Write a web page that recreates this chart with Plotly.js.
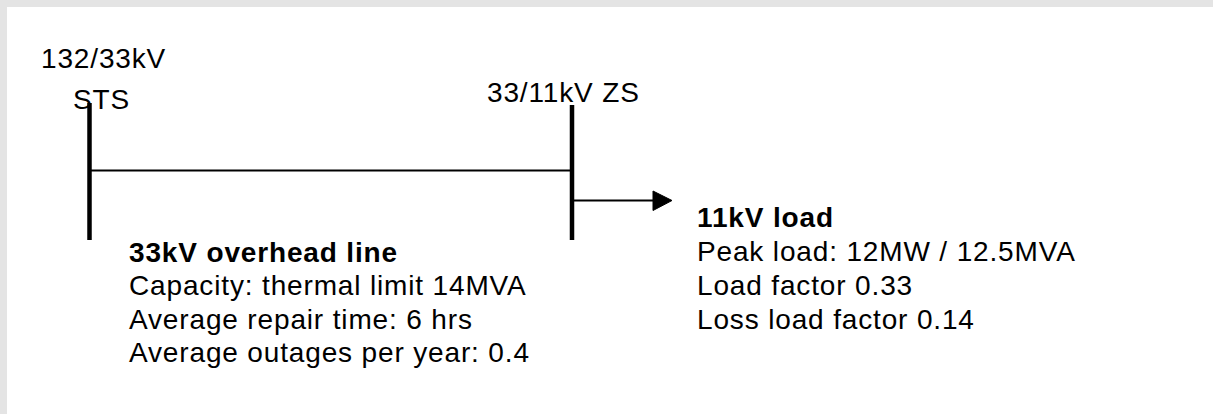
<!DOCTYPE html>
<html>
<head>
<meta charset="utf-8">
<script src="https://cdn.plot.ly/plotly-3.0.1.min.js"></script>
<style>
  html, body { margin: 0; padding: 0; background: #e4e4e4; }
  #chart { width: 1213px; height: 414px; }
  .annotation-text { letter-spacing: 0.85px; }
</style>
</head>
<body>
<div id="chart"></div>
<script>
// Diagram content
const busLabels = ['132/33kV', 'STS', '33/11kV ZS'];
const lineTitle = '33kV overhead line';
const lineDetails = ['Capacity: thermal limit 14MVA', 'Average repair time: 6 hrs', 'Average outages per year: 0.4'];
const loadTitle = '11kV load';
const loadDetails = ['Peak load: 12MW / 12.5MVA', 'Load factor 0.33', 'Loss load factor 0.14'];

const FONT = 'Liberation Sans, Arial, sans-serif';
const FS = 28;

function label(text, x, y, bold) {
  return {
    x: x, y: y, xref: 'x', yref: 'y',
    text: bold ? '<b>' + text + '</b>' : text,
    showarrow: false, xanchor: 'left', yanchor: 'middle',
    borderpad: 0, borderwidth: 0,
    font: { family: FONT, size: FS, color: '#000000' }
  };
}

const annotations = [
  label(busLabels[0], 41, 58.5, false),
  label(busLabels[1], 73, 99.5, false),
  label(busLabels[2], 487, 92.5, false),
  label(lineTitle, 129, 252, true),
];
lineDetails.forEach((t, i) => annotations.push(label(t, 129, 285.5 + i * 33.5, false)));
annotations.push(label(loadTitle, 697, 217, true));
loadDetails.forEach((t, i) => annotations.push(label(t, 697, 251 + i * 34, false)));

const shapes = [
  // white page area
  { type: 'rect', xref: 'x', yref: 'y', x0: 7, x1: 1214, y0: 7, y1: 415,
    fillcolor: '#ffffff', line: { width: 0 }, layer: 'below' },
  // 132/33kV busbar
  { type: 'line', xref: 'x', yref: 'y', x0: 89.5, x1: 89.5, y0: 103, y1: 240,
    line: { color: '#000000', width: 4.5 } },
  // 33/11kV busbar
  { type: 'line', xref: 'x', yref: 'y', x0: 572, x1: 572, y0: 105, y1: 240,
    line: { color: '#000000', width: 4.5 } },
  // 33kV overhead line
  { type: 'line', xref: 'x', yref: 'y', x0: 90, x1: 572, y0: 170.5, y1: 170.5,
    line: { color: '#000000', width: 2 } },
  // feeder to load
  { type: 'line', xref: 'x', yref: 'y', x0: 572, x1: 656, y0: 200.5, y1: 200.5,
    line: { color: '#000000', width: 2 } },
  // arrow head
  { type: 'path', xref: 'x', yref: 'y', path: 'M 653 191 L 672 200.5 L 653 210.5 Z',
    fillcolor: '#000000', line: { color: '#000000', width: 1 } }
];

const layout = {
  width: 1213, height: 414,
  margin: { l: 0, r: 0, t: 0, b: 0, pad: 0 },
  paper_bgcolor: '#e4e4e4',
  plot_bgcolor: 'rgba(0,0,0,0)',
  showlegend: false,
  xaxis: { range: [0, 1213], visible: false, fixedrange: true },
  yaxis: { range: [414, 0], visible: false, fixedrange: true },
  shapes: shapes,
  annotations: annotations
};

Plotly.newPlot('chart', [], layout, { displayModeBar: false, staticPlot: true });
</script>
</body>
</html>
